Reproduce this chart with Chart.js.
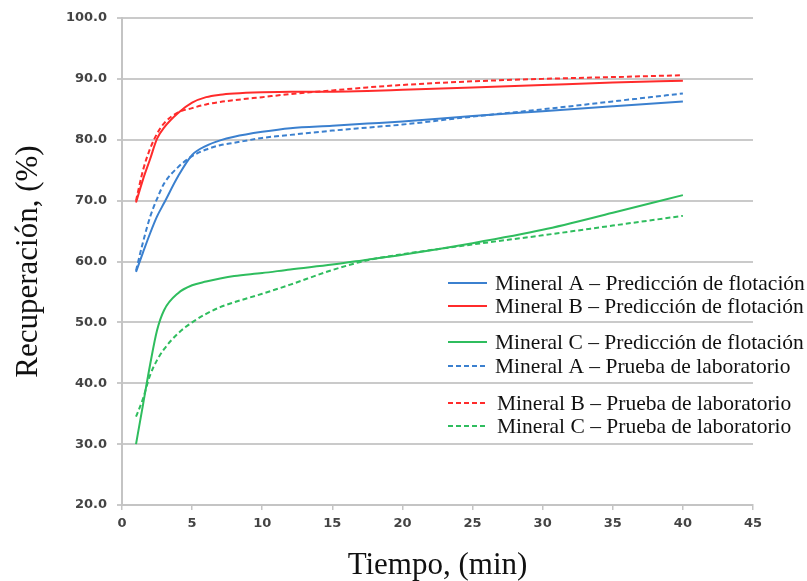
<!DOCTYPE html>
<html>
<head>
<meta charset="utf-8">
<script src="https://cdn.jsdelivr.net/npm/chart.js@4"></script>
<style>
  html, body { margin: 0; padding: 0; background: #fff; }
  #wrap { width: 807px; height: 581px; position: relative; }
</style>
</head>
<body>
<div id="wrap"><canvas id="c" width="807" height="581"></canvas></div>
<script>
// ---- Data ----
const times = [1, 1.5, 2, 2.5, 3, 4, 5, 6, 7, 8, 10, 12, 15, 17.5, 20, 25, 30, 35, 40];

const mineralA_pred = [58.3, 61.5, 64.6, 67.4, 69.6, 74.0, 77.5, 79.0, 79.9, 80.5, 81.3, 81.9, 82.3, 82.65, 83.0, 83.9, 84.7, 85.5, 86.3];
const mineralB_pred = [69.7, 73.5, 76.8, 80.2, 82.0, 84.4, 86.1, 87.0, 87.4, 87.6, 87.8, 87.9, 87.9, 88.0, 88.2, 88.6, 89.0, 89.4, 89.7];
const mineralC_pred = [30.0, 36.5, 43.0, 48.7, 52.0, 54.8, 56.1, 56.7, 57.2, 57.6, 58.1, 58.7, 59.5, 60.3, 61.1, 63.0, 65.2, 68.0, 70.9];
const mineralA_lab  = [58.5, 63.2, 67.3, 70.3, 72.8, 75.5, 77.3, 78.4, 79.1, 79.5, 80.3, 80.8, 81.5, 82.0, 82.5, 83.8, 85.0, 86.3, 87.6];
const mineralB_lab  = [70.0, 75.0, 78.5, 81.0, 82.7, 84.5, 85.2, 85.8, 86.2, 86.5, 87.0, 87.5, 88.1, 88.6, 89.0, 89.6, 90.0, 90.3, 90.6];
const mineralC_lab  = [34.5, 37.5, 41.3, 43.8, 45.6, 48.2, 50.0, 51.4, 52.5, 53.3, 54.7, 56.2, 58.6, 60.2, 61.2, 62.8, 64.3, 65.9, 67.5];

const seriesLabels = [
  'Mineral A \u2013 Predicción de flotación',
  'Mineral B \u2013 Predicción de flotación',
  'Mineral C \u2013 Predicción de flotación',
  'Mineral A \u2013 Prueba de laboratorio',
  'Mineral B \u2013 Prueba de laboratorio',
  'Mineral C \u2013 Prueba de laboratorio'
];
const xTickValues = [0, 5, 10, 15, 20, 25, 30, 35, 40, 45];
const yTickValues = [20, 30, 40, 50, 60, 70, 80, 90, 100];
const xTitle = 'Tiempo, (min)';
const yTitle = 'Recuperación, (%)';

// ---- Styles ----
const BLUE = '#3b80cf';
const RED = '#ff2b2b';
const GREEN = '#2fbd5e';
const DASH = [5, 3];

function pts(vals) { return times.map((t, i) => ({ x: t, y: vals[i] })); }

function ds(label, vals, color, dashed) {
  return {
    label: label,
    data: pts(vals),
    borderColor: color,
    backgroundColor: color,
    borderWidth: 2,
    borderDash: dashed ? DASH : [],
    pointRadius: 0,
    fill: false,
    cubicInterpolationMode: 'monotone'
  };
}

const datasets = [
  ds(seriesLabels[0], mineralA_pred, BLUE, false),
  ds(seriesLabels[1], mineralB_pred, RED, false),
  ds(seriesLabels[2], mineralC_pred, GREEN, false),
  ds(seriesLabels[3], mineralA_lab, BLUE, true),
  ds(seriesLabels[4], mineralB_lab, RED, true),
  ds(seriesLabels[5], mineralC_lab, GREEN, true)
];

// Custom legend drawn inside the plot (positions only, data from datasets)
const legendRowsY = [283, 306, 342, 366, 403, 426];
const customLegend = {
  id: 'customLegend',
  afterDraw(chart) {
    const ctx = chart.ctx;
    ctx.save();
    ctx.font = '21.5px "Liberation Serif", "Times New Roman", serif';
    ctx.textBaseline = 'middle';
    ctx.textAlign = 'left';
    chart.data.datasets.forEach((d, i) => {
      const y = legendRowsY[i];
      ctx.strokeStyle = d.borderColor;
      ctx.lineWidth = 2;
      ctx.setLineDash(d.borderDash || []);
      ctx.beginPath();
      ctx.moveTo(448, y);
      ctx.lineTo(487, y);
      ctx.stroke();
      ctx.setLineDash([]);
      ctx.fillStyle = '#111';
      ctx.fillText(d.label, i >= 4 ? 497 : 495, y + 1);
    });
    ctx.restore();
  }
};

const tickFont = { family: '"DejaVu Sans", sans-serif', size: 13, weight: 'bold' };
const yTitleFont = { family: '"Liberation Serif", "Times New Roman", serif', size: 31, lineHeight: 1 };
const xTitleFont = { family: '"Liberation Serif", "Times New Roman", serif', size: 31, lineHeight: 1 };

new Chart(document.getElementById('c'), {
  type: 'line',
  data: { datasets: datasets },
  plugins: [customLegend],
  options: {
    responsive: false,
    animation: false,
    layout: { padding: { left: 0, top: 18, right: 54, bottom: 0 } },
    plugins: { legend: { display: false }, tooltip: { enabled: false } },
    scales: {
      x: {
        type: 'linear',
        min: 0, max: 45,
        afterBuildTicks: (s) => { s.ticks = xTickValues.map(v => ({ value: v })); },
        afterFit: (s) => { s.height = 76; },
        ticks: { font: tickFont, color: '#444', padding: 6, maxRotation: 0,
                 callback: (v) => String(v) },
        grid: { display: true, drawOnChartArea: false, drawTicks: true, tickLength: 5, color: '#c4c4c4', lineWidth: 1.5 },
        border: { display: true, color: '#c4c4c4', width: 2 },
        title: { display: true, text: xTitle, font: xTitleFont, color: '#111', padding: { top: 0, bottom: 0 } }
      },
      y: {
        type: 'linear',
        min: 20, max: 100,
        afterBuildTicks: (s) => { s.ticks = yTickValues.map(v => ({ value: v })); },
        afterFit: (s) => { s.width = 122; },
        ticks: { font: tickFont, color: '#444', padding: 10,
                 callback: (v) => Number(v).toFixed(1) },
        grid: { display: true, drawOnChartArea: true, drawTicks: true, tickLength: 5, color: '#cacaca', lineWidth: 2 },
        border: { display: true, color: '#c4c4c4', width: 2 },
        title: { display: true, text: yTitle, font: yTitleFont, color: '#111', padding: { top: 13, bottom: 0 } }
      }
    }
  }
});
</script>
</body>
</html>
